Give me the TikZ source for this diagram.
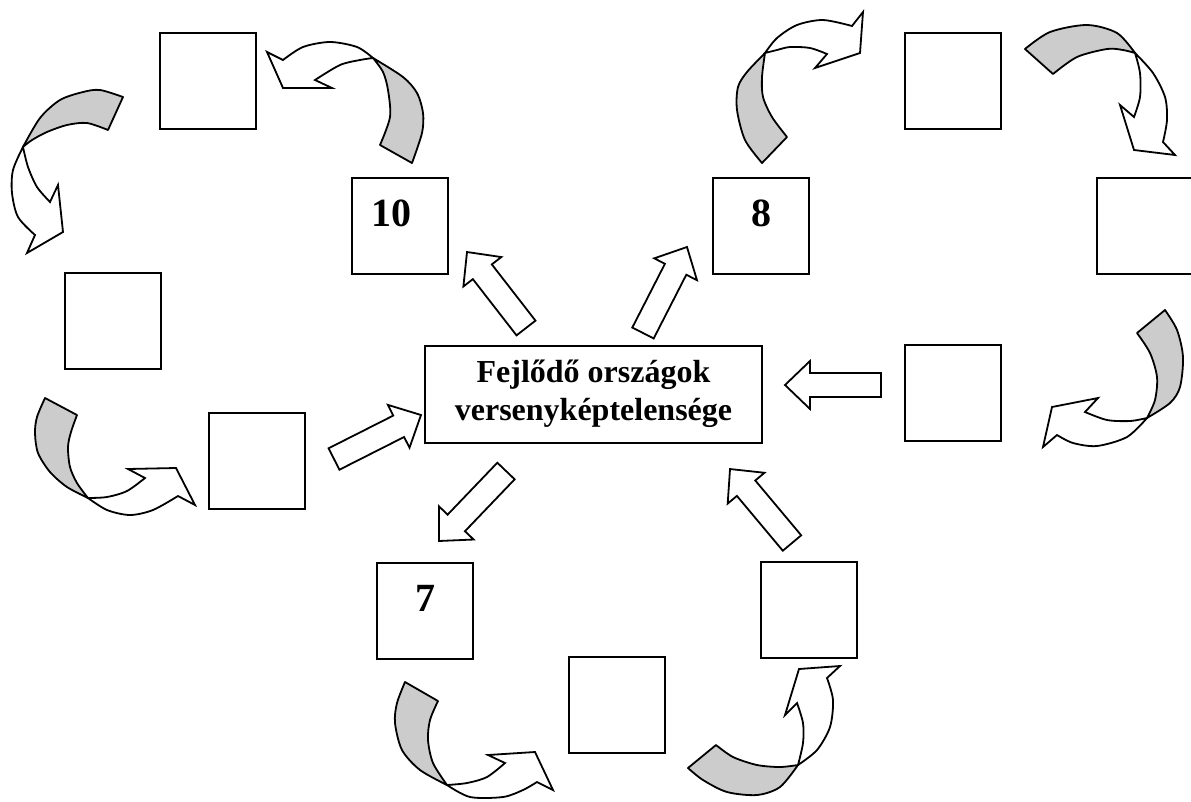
\documentclass[tikz,border=0pt]{standalone}
\usepackage{fontspec}
\setmainfont{Liberation Serif}
\definecolor{backgray}{RGB}{204,204,204}
\newcommand\blockarrow[4]{%
  \pgfmathsetmacro\baL{veclen(#3-#1,#4-#2)}%
  \pgfmathsetmacro\baA{atan2(#2-#4,#3-#1)}%
  \begin{scope}[shift={(#1,#2)},rotate=\baA]
    \draw[blk] (0,-12) -- ({\baL-25},-12) -- ({\baL-25},-24) -- (\baL,0) -- ({\baL-25},24) -- ({\baL-25},12) -- (0,12) -- cycle;
  \end{scope}}
\newcommand\curvarrow[5]{%
  \filldraw[gr] plot[smooth] coordinates {#1} -- plot[smooth] coordinates {#2} -- cycle;
  \filldraw[wh] plot[smooth] coordinates {#3} -- #4 -- plot[smooth] coordinates {#5} -- cycle;}
\begin{document}
\begin{tikzpicture}[x=1pt,y=-1pt,
  sq/.style={draw, line width=2pt, minimum width=96pt, minimum height=96pt, inner sep=0pt},
  num/.style={font=\fontsize{40}{46}\selectfont\bfseries, inner sep=0pt},
  mainbox/.style={draw, line width=2pt, minimum width=337pt, minimum height=97pt, inner sep=0pt, align=center, font=\fontsize{32}{38}\selectfont\bfseries},
  blk/.style={draw, line width=1.8pt, fill=white, line join=miter},
  gr/.style={draw, line width=1.8pt, fill=backgray, line join=round},
  wh/.style={draw, line width=1.8pt, fill=white, line join=miter}]
\useasboundingbox (0,0) rectangle (1191,801);
\clip (0,0) rectangle (1191,801);
% boxes
\node[sq] (b1) at (208,81) {};
\node[sq] (b10) at (400,225.5) {};
\node[num] (t10) at ([xshift=-9pt,yshift=12pt]b10.center) {10};
\node[sq] (bL) at (112.5,320.5) {};
\node[sq] (bLL) at (256.5,461) {};
\node[mainbox] (c) at (593.5,394) {Fejlődő országok\\versenyképtelensége};
\node[sq] (b8) at (761,225.5) {};
\node[num] (t8) at ([yshift=12pt]b8.center) {8};
\node[sq] (bTR) at (953,81) {};
\node[sq] (bR) at (1145,225.5) {};
\node[sq] (bRM) at (953,393) {};
\node[sq] (b7) at (425,611) {};
\node[num] (t7) at ([yshift=13pt]b7.center) {7};
\node[sq] (bBM) at (617,705) {};
\node[sq] (bBR) at (809,610) {};
% straight block arrows
\blockarrow{526}{328}{467}{252}
\blockarrow{643}{333}{687}{247}
\blockarrow{881}{385}{785}{385}
\blockarrow{334}{459}{421}{415}
\blockarrow{506}{471}{439}{541}
\blockarrow{792}{543}{730}{469}
% curved arrows
% A
\curvarrow{(412,163) (422,133) (423,113) (417,93) (403,77) (373,58)}
 {(373,58) (383,72) (388,90) (390,117) (380,145)}
 {(373,58) (357,47) (330,42) (303,47) (283,60)}
 {(267,52) -- (283,88) -- (332,88)}
 {(315,80) (340,65) (360,60) (373,58)}
% B
\curvarrow{(123,97) (100,90) (83,92) (60,100) (40,118) (23,147)}
 {(23,147) (32,140) (47,132) (67,125) (87,123) (108,130)}
 {(23,147) (13,170) (12,193) (18,217) (35,235)}
 {(27,253) -- (63,232) -- (58,185)}
 {(50,202) (37,187) (28,167) (23,147)}
% C
\curvarrow{(45,398) (37,417) (35,433) (38,453) (50,472) (67,487) (88,498)}
 {(88,498) (77,483) (70,467) (68,447) (71,432) (77,415)}
 {(88,498) (107,510) (130,515) (153,510) (178,496)}
 {(195,505) -- (176,468) -- (128,469)}
 {(145,478) (127,491) (107,497) (88,498)}
% D
\curvarrow{(762,163) (745,140) (737,110) (738,87) (747,72) (765,53)}
 {(765,53) (762,77) (763,97) (772,117) (787,137)}
 {(765,53) (777,38) (797,25) (823,20) (852,26)}
 {(863,12) -- (860,53) -- (815,68)}
 {(827,54) (810,48) (790,47) (777,50) (765,53)}
% E
\curvarrow{(1025,49) (1050,32) (1087,25) (1117,33) (1135,53)}
 {(1135,53) (1123,50) (1107,49) (1077,57) (1053,74)}
 {(1135,53) (1153,73) (1165,97) (1167,120) (1163,142)}
 {(1175,155) -- (1134,150) -- (1120,105)}
 {(1134,117) (1140,97) (1140,73) (1135,53)}
% F
\curvarrow{(1165,310) (1177,330) (1183,357) (1180,387) (1170,403) (1147,418)}
 {(1147,418) (1155,400) (1157,377) (1150,353) (1137,333)}
 {(1147,418) (1127,437) (1097,446) (1073,443) (1057,435)}
 {(1043,447) -- (1052,407) -- (1098,398)}
 {(1085,412) (1107,420) (1130,421) (1147,418)}
% G
\curvarrow{(405,682) (397,703) (395,723) (402,750) (420,770) (447,785)}
 {(447,785) (433,763) (428,740) (430,720) (438,701)}
 {(447,785) (470,797) (503,797) (523,790) (537,782)}
 {(553,790) -- (535,752) -- (488,755)}
 {(505,763) (487,777) (467,783) (447,785)}
% H
\curvarrow{(688,768) (703,780) (727,792) (757,795) (780,787) (798,765)}
 {(798,765) (780,767) (757,765) (733,757) (716,745)}
 {(798,765) (817,750) (830,727) (833,700) (827,678)}
 {(840,666) -- (799,669) -- (785,715)}
 {(797,703) (803,723) (803,743) (798,765)}
\end{tikzpicture}
\end{document}
